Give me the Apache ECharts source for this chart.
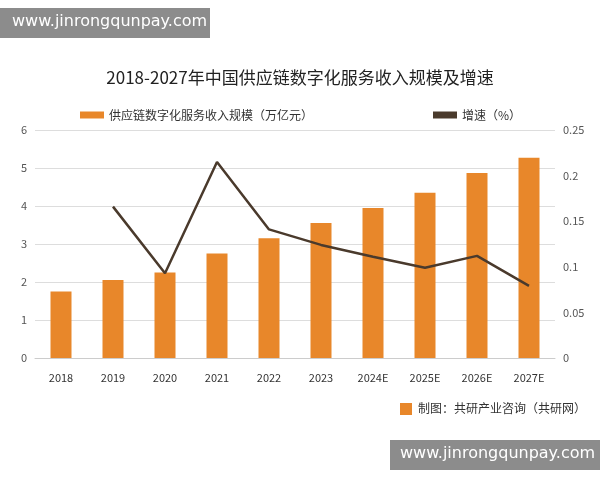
<!DOCTYPE html>
<html><head><meta charset="utf-8">
<script src="https://cdn.jsdelivr.net/npm/echarts@6/dist/echarts.min.js"></script>
<style>html,body{margin:0;padding:0;background:#fff}#c{width:600px;height:480px}</style>
</head><body><div id="c"></div>
<script>
const categories=['2018','2019','2020','2021','2022','2023','2024E','2025E','2026E','2027E'];
const scaleValues=[1.75,2.05,2.25,2.75,3.15,3.55,3.95,4.35,4.87,5.27];
const growthValues=[null,0.166,0.093,0.215,0.141,0.124,0.111,0.099,0.112,0.079];
const leftTicks=[0,1,2,3,4,5,6];
const chart=echarts.init(document.getElementById('c'));
const font='"Noto Sans CJK SC", sans-serif';
chart.setOption({
  backgroundColor:'#fff',
  textStyle:{fontFamily:font},
  title:{text:'2018-2027年中国供应链数字化服务收入规模及增速',left:'center',top:64,textStyle:{fontSize:17,fontWeight:'normal',color:'#222',fontFamily:font}},
  legend:{top:104,left:75,itemGap:120,textStyle:{fontSize:12,color:'#333'},
    data:[{name:'供应链数字化服务收入规模（万亿元）',icon:'rect'},{name:'增速（%）',icon:'rect'}],itemWidth:24,itemHeight:7},
  graphic:[
    {type:'rect',shape:{x:0,y:8,width:210,height:30},style:{fill:'rgba(120,120,120,0.85)'}},
    {type:'text',left:12,top:14,style:{text:'www.jinrongqunpay.com',fill:'#fff',fontSize:16,fontFamily:'DejaVu Sans'}},
    {type:'rect',shape:{x:390,y:440,width:210,height:30},style:{fill:'rgba(120,120,120,0.85)'}},
    {type:'text',left:400,top:446,style:{text:'www.jinrongqunpay.com',fill:'#fff',fontSize:16,fontFamily:'DejaVu Sans'}},
    {type:'rect',shape:{x:400,y:403,width:12,height:12},style:{fill:'#e8872a'}},
    {type:'text',left:418,top:402,style:{text:'制图：共研产业咨询（共研网）',fill:'#333',fontSize:12,fontFamily:font}}
  ],
  grid:{left:35,right:45,top:130,bottom:122},
  xAxis:{type:'category',data:categories,axisTick:{show:false},axisLine:{lineStyle:{color:'#ccc'}},
    axisLabel:{color:'#333',fontSize:11,margin:14}},
  yAxis:[
    {type:'value',min:0,max:6,interval:1,axisLabel:{color:'#555',fontSize:11},splitLine:{lineStyle:{color:'#ddd'}},axisLine:{show:false}},
    {type:'value',min:0,max:0.25,interval:0.05,axisLabel:{color:'#555',fontSize:11,formatter:v=>String(+v.toFixed(2))},splitLine:{show:false},axisLine:{show:false}}
  ],
  series:[
    {name:'供应链数字化服务收入规模（万亿元）',type:'bar',data:scaleValues,barWidth:21,itemStyle:{color:'#e8872a'}},
    {name:'增速（%）',type:'line',yAxisIndex:1,data:growthValues,symbol:'none',lineStyle:{color:'#4a3a2c',width:2.5},itemStyle:{color:'#4a3a2c'}}
  ]
});
</script></body></html>
